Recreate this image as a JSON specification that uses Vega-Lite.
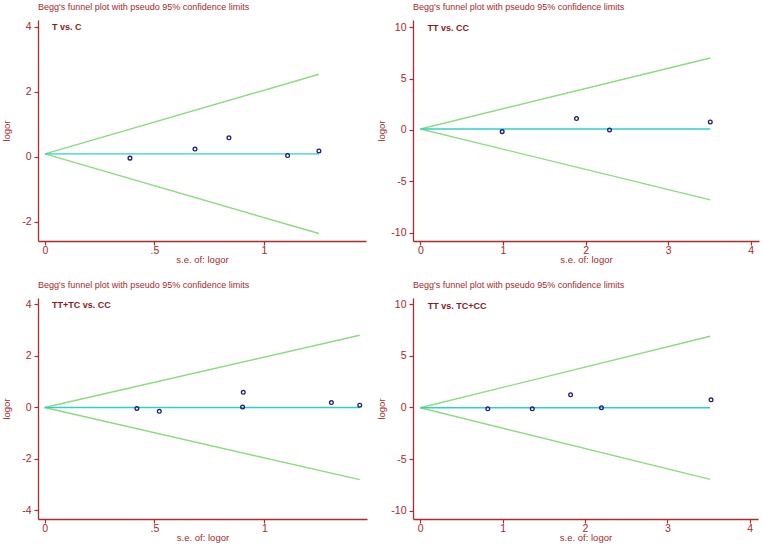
{
  "$schema": "https://vega.github.io/schema/vega-lite/v6.json",
  "background": "white",
  "padding": {"left": 1, "top": 3, "right": 2, "bottom": 2},
  "columns": 2,
  "align": "each",
  "bounds": "flush",
  "spacing": {"row": 57, "column": 46},
  "config": {
    "view": {"stroke": null},
    "font": "Liberation Sans",
    "axis": {
      "grid": false,
      "domainColor": "#ad2b2b",
      "tickColor": "#ad2b2b",
      "labelColor": "#a52a2a",
      "titleColor": "#a52a2a",
      "labelFont": "Liberation Sans",
      "titleFont": "Liberation Sans",
      "labelFontSize": 10.5,
      "titleFontSize": 9.5,
      "titleFontWeight": "normal",
      "tickSize": 4,
      "domainWidth": 1.3,
      "tickWidth": 1.2,
      "labelExpr": "datum.value == 0.5 ? '.5' : '' + datum.value"
    },
    "axisX": {"labelPadding": 0, "titlePadding": -1},
    "axisY": {"labelPadding": 3, "labelAngle": 0, "titlePadding": 10},
    "title": {
      "anchor": "start",
      "frame": "group",
      "font": "Liberation Sans",
      "fontSize": 9,
      "fontWeight": "normal",
      "color": "#a52a2a",
      "offset": 8
    }
  },
  "datasets": {
    "p1_lines": [
      {"se": 0, "logor": 0.08, "line": "upper"}, {"se": 1.251, "logor": 2.53, "line": "upper"},
      {"se": 0, "logor": 0.08, "line": "lower"}, {"se": 1.251, "logor": -2.37, "line": "lower"},
      {"se": 0, "logor": 0.08, "line": "pooled"}, {"se": 1.251, "logor": 0.08, "line": "pooled"}
    ],
    "p1_pts": [
      {"se": 0.388, "logor": -0.05}, {"se": 0.685, "logor": 0.23}, {"se": 0.84, "logor": 0.575},
      {"se": 1.108, "logor": 0.03}, {"se": 1.251, "logor": 0.17}
    ],
    "p2_lines": [
      {"se": 0, "logor": 0.1, "line": "upper"}, {"se": 3.51, "logor": 7.0, "line": "upper"},
      {"se": 0, "logor": 0.1, "line": "lower"}, {"se": 3.51, "logor": -6.8, "line": "lower"},
      {"se": 0, "logor": 0.1, "line": "pooled"}, {"se": 3.51, "logor": 0.1, "line": "pooled"}
    ],
    "p2_pts": [
      {"se": 0.99, "logor": -0.16}, {"se": 1.89, "logor": 1.11}, {"se": 2.29, "logor": 0.0},
      {"se": 3.51, "logor": 0.78}
    ],
    "p3_lines": [
      {"se": 0, "logor": -0.01, "line": "upper"}, {"se": 1.434, "logor": 2.8, "line": "upper"},
      {"se": 0, "logor": -0.01, "line": "lower"}, {"se": 1.434, "logor": -2.82, "line": "lower"},
      {"se": 0, "logor": -0.01, "line": "pooled"}, {"se": 1.434, "logor": -0.01, "line": "pooled"}
    ],
    "p3_pts": [
      {"se": 0.42, "logor": -0.05}, {"se": 0.522, "logor": -0.16}, {"se": 0.901, "logor": 0.01},
      {"se": 0.904, "logor": 0.58}, {"se": 1.305, "logor": 0.18}, {"se": 1.434, "logor": 0.08}
    ],
    "p4_lines": [
      {"se": 0, "logor": -0.03, "line": "upper"}, {"se": 3.52, "logor": 6.9, "line": "upper"},
      {"se": 0, "logor": -0.03, "line": "lower"}, {"se": 3.52, "logor": -6.96, "line": "lower"},
      {"se": 0, "logor": -0.03, "line": "pooled"}, {"se": 3.52, "logor": -0.03, "line": "pooled"}
    ],
    "p4_pts": [
      {"se": 0.82, "logor": -0.13}, {"se": 1.36, "logor": -0.13}, {"se": 1.825, "logor": 1.23},
      {"se": 2.2, "logor": -0.03}, {"se": 3.53, "logor": 0.74}
    ]
  },
  "concat": [
    {
      "width": 328, "height": 221,
      "title": "Begg's funnel plot with pseudo 95% confidence limits",
      "layer": [
        {
          "data": {"name": "p1_lines"},
          "mark": {"type": "line", "strokeWidth": 1.4},
          "encoding": {
            "x": {"field": "se", "type": "quantitative", "scale": {"domain": [-0.032, 1.466], "nice": false, "zero": false},
                  "axis": {"values": [0, 0.5, 1], "title": "s.e. of: logor"}},
            "y": {"field": "logor", "type": "quantitative", "scale": {"domain": [-2.6, 4.2], "nice": false, "zero": false},
                  "axis": {"values": [-2, 0, 2, 4], "title": "logor"}},
            "color": {"field": "line", "type": "nominal", "legend": null,
                      "scale": {"domain": ["upper", "lower", "pooled"], "range": ["#8cdb80", "#8cdb80", "#2fcfd0"]}}
          }
        },
        {
          "data": {"name": "p1_pts"},
          "mark": {"type": "point", "shape": "circle", "filled": false, "size": 14, "strokeWidth": 1.3, "color": "#1e1e78", "opacity": 1},
          "encoding": {"x": {"field": "se", "type": "quantitative"}, "y": {"field": "logor", "type": "quantitative"}}
        },
        {
          "data": {"values": [{"label": "T vs. C"}]},
          "mark": {"type": "text", "align": "left", "baseline": "middle", "fontSize": 9, "fontWeight": "bold", "color": "#8b1a1a"},
          "encoding": {"x": {"datum": 0.032}, "y": {"datum": 4.0}, "text": {"field": "label"}}
        }
      ]
    },
    {
      "width": 346, "height": 221,
      "title": "Begg's funnel plot with pseudo 95% confidence limits",
      "layer": [
        {
          "data": {"name": "p2_lines"},
          "mark": {"type": "line", "strokeWidth": 1.4},
          "encoding": {
            "x": {"field": "se", "type": "quantitative", "scale": {"domain": [-0.09, 4.1], "nice": false, "zero": false},
                  "axis": {"values": [0, 1, 2, 3, 4], "title": "s.e. of: logor"}},
            "y": {"field": "logor", "type": "quantitative", "scale": {"domain": [-10.8, 10.7], "nice": false, "zero": false},
                  "axis": {"values": [-10, -5, 0, 5, 10], "title": "logor", "titlePadding": 4.5}},
            "color": {"field": "line", "type": "nominal", "legend": null,
                      "scale": {"domain": ["upper", "lower", "pooled"], "range": ["#8cdb80", "#8cdb80", "#2fcfd0"]}}
          }
        },
        {
          "data": {"name": "p2_pts"},
          "mark": {"type": "point", "shape": "circle", "filled": false, "size": 14, "strokeWidth": 1.3, "color": "#1e1e78", "opacity": 1},
          "encoding": {"x": {"field": "se", "type": "quantitative"}, "y": {"field": "logor", "type": "quantitative"}}
        },
        {
          "data": {"values": [{"label": "TT vs. CC"}]},
          "mark": {"type": "text", "align": "left", "baseline": "middle", "fontSize": 9, "fontWeight": "bold", "color": "#8b1a1a"},
          "encoding": {"x": {"datum": 0.085}, "y": {"datum": 9.9}, "text": {"field": "label"}}
        }
      ]
    },
    {
      "width": 329, "height": 221,
      "title": "Begg's funnel plot with pseudo 95% confidence limits",
      "layer": [
        {
          "data": {"name": "p3_lines"},
          "mark": {"type": "line", "strokeWidth": 1.4},
          "encoding": {
            "x": {"field": "se", "type": "quantitative", "scale": {"domain": [-0.03, 1.467], "nice": false, "zero": false},
                  "axis": {"values": [0, 0.5, 1], "title": "s.e. of: logor"}},
            "y": {"field": "logor", "type": "quantitative", "scale": {"domain": [-4.35, 4.25], "nice": false, "zero": false},
                  "axis": {"values": [-4, -2, 0, 2, 4], "title": "logor"}},
            "color": {"field": "line", "type": "nominal", "legend": null,
                      "scale": {"domain": ["upper", "lower", "pooled"], "range": ["#8cdb80", "#8cdb80", "#2fcfd0"]}}
          }
        },
        {
          "data": {"name": "p3_pts"},
          "mark": {"type": "point", "shape": "circle", "filled": false, "size": 14, "strokeWidth": 1.3, "color": "#1e1e78", "opacity": 1},
          "encoding": {"x": {"field": "se", "type": "quantitative"}, "y": {"field": "logor", "type": "quantitative"}}
        },
        {
          "data": {"values": [{"label": "TT+TC vs. CC"}]},
          "mark": {"type": "text", "align": "left", "baseline": "middle", "fontSize": 9, "fontWeight": "bold", "color": "#8b1a1a"},
          "encoding": {"x": {"datum": 0.034}, "y": {"datum": 3.96}, "text": {"field": "label"}}
        }
      ]
    },
    {
      "width": 345, "height": 221,
      "title": "Begg's funnel plot with pseudo 95% confidence limits",
      "layer": [
        {
          "data": {"name": "p4_lines"},
          "mark": {"type": "line", "strokeWidth": 1.4},
          "encoding": {
            "x": {"field": "se", "type": "quantitative", "scale": {"domain": [-0.088, 4.1], "nice": false, "zero": false},
                  "axis": {"values": [0, 1, 2, 3, 4], "title": "s.e. of: logor"}},
            "y": {"field": "logor", "type": "quantitative", "scale": {"domain": [-10.8, 10.6], "nice": false, "zero": false},
                  "axis": {"values": [-10, -5, 0, 5, 10], "title": "logor", "titlePadding": 4.5}},
            "color": {"field": "line", "type": "nominal", "legend": null,
                      "scale": {"domain": ["upper", "lower", "pooled"], "range": ["#8cdb80", "#8cdb80", "#2fcfd0"]}}
          }
        },
        {
          "data": {"name": "p4_pts"},
          "mark": {"type": "point", "shape": "circle", "filled": false, "size": 14, "strokeWidth": 1.3, "color": "#1e1e78", "opacity": 1},
          "encoding": {"x": {"field": "se", "type": "quantitative"}, "y": {"field": "logor", "type": "quantitative"}}
        },
        {
          "data": {"values": [{"label": "TT vs. TC+CC"}]},
          "mark": {"type": "text", "align": "left", "baseline": "middle", "fontSize": 9, "fontWeight": "bold", "color": "#8b1a1a"},
          "encoding": {"x": {"datum": 0.09}, "y": {"datum": 9.87}, "text": {"field": "label"}}
        }
      ]
    }
  ]
}
